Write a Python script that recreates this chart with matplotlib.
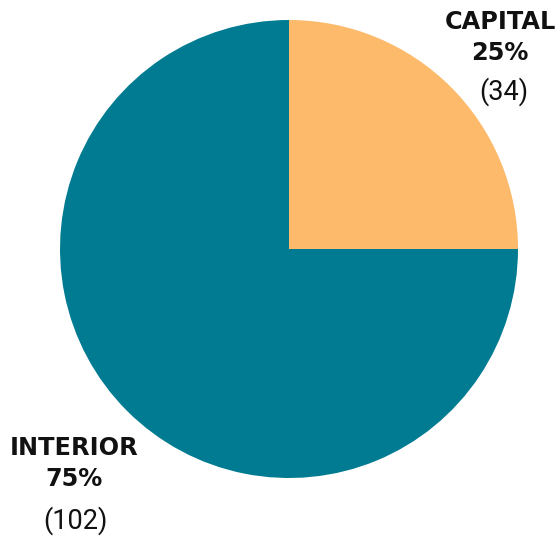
import matplotlib
matplotlib.use("Agg")
import matplotlib.pyplot as plt

# project counts by category
categories = ["CAPITAL", "INTERIOR"]
counts = [34, 102]
colors = ["#FDBA6B", "#007B91"]

total = sum(counts)
pcts = [round(100 * c / total) for c in counts]

W, H = 560, 536
fig = plt.figure(figsize=(W / 100, H / 100), dpi=100)

# pie centre at (289, 249) px, radius 229 px
cx, cy, r = 289, 249, 229
ax = fig.add_axes([(cx - r) / W, (H - cy - r) / H, 2 * r / W, 2 * r / H])
ax.pie(counts, colors=colors, startangle=90, counterclock=False,
       radius=1.0, wedgeprops=dict(linewidth=0))
ax.set_xlim(-1, 1)
ax.set_ylim(-1, 1)
ax.set_aspect("equal")
ax.axis("off")

bold = dict(family=["DejaVu Sans"], weight="bold", fontsize=17.3, color="#111111")
reg = dict(family=["Roboto"], fontsize=19.5, color="#111111")

# label positions (px from top-left): x, name y, percent y, count x, count y
label_pos = {"CAPITAL": (500, 22, 53, 504, 92),
             "INTERIOR": (74, 448, 479, 75, 521)}
for name, n, p in zip(categories, counts, pcts):
    x, y1, y2, xc, y3 = label_pos[name]
    fig.text(x / W, 1 - y1 / H, name, ha="center", va="center", **bold)
    fig.text(x / W, 1 - y2 / H, f"{p}%", ha="center", va="center", **bold)
    fig.text(xc / W, 1 - y3 / H, f"({n})", ha="center", va="center", **reg)

fig.savefig("out.png", dpi=100)
